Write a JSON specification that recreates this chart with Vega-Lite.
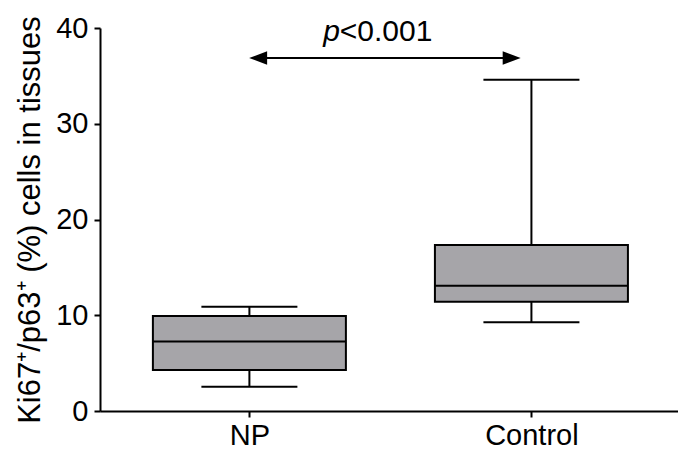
{
  "$schema": "https://vega.github.io/schema/vega-lite/v6.json",
  "width": 578,
  "height": 383,
  "autosize": "none",
  "padding": {"left": 100, "top": 28, "right": 0, "bottom": 40},
  "background": "white",
  "config": {"view": {"stroke": null}, "font": "Liberation Sans"},
  "datasets": {
    "boxes": [
      {"group": "NP", "pos": 1, "min": 2.54, "q1": 4.28, "median": 7.25, "q3": 9.92, "max": 10.89},
      {"group": "Control", "pos": 2, "min": 9.26, "q1": 11.42, "median": 13.09, "q3": 17.34, "max": 34.6}
    ],
    "arrow": [{"x1": 1.03, "x2": 1.93, "y": 36.87}],
    "heads": [{"x": 1.031, "y": 36.87, "dir": "left"}, {"x": 1.930, "y": 36.87, "dir": "right"}],
    "label": [{"x": 1.3206, "y": 39.6, "p": "p", "rest": "<0.001"}]
  },
  "layer": [
    {
      "data": {"name": "boxes"},
      "mark": {"type": "rule", "color": "black", "strokeWidth": 2},
      "encoding": {
        "x": {"field": "pos", "type": "quantitative", "scale": {"domain": [0.488, 2.502], "nice": false, "zero": false},
          "axis": {"values": [1, 2], "labelExpr": "datum.value == 1 ? 'NP' : 'Control'", "title": null, "grid": false,
            "domainColor": "black", "domainWidth": 2, "tickColor": "black", "tickWidth": 2, "tickSize": 6,
            "labelFontSize": 29, "labelColor": "black", "labelPadding": 4, "labelFont": "Liberation Sans"}},
        "y": {"field": "min", "type": "quantitative", "scale": {"domain": [0, 40], "nice": false},
          "axis": {"values": [0, 10, 20, 30, 40], "title": "Ki67⁺/p63⁺  (%)  cells in tissues", "grid": false,
            "domainColor": "black", "domainWidth": 2, "tickColor": "black", "tickWidth": 2, "tickSize": 6,
            "labelFontSize": 29, "labelColor": "black", "labelPadding": 6, "labelFont": "Liberation Sans",
            "titleFontSize": 31, "titleFont": "Liberation Sans", "titleFontWeight": "normal", "titleColor": "black", "titlePadding": 9}},
        "y2": {"field": "max"}
      }
    },
    {
      "data": {"name": "boxes"},
      "mark": {"type": "bar", "width": 193, "fill": "#a6a5a9", "stroke": "black", "strokeWidth": 2},
      "encoding": {
        "x": {"field": "pos", "type": "quantitative", "scale": {"domain": [0.488, 2.502], "nice": false, "zero": false}},
        "y": {"field": "q1", "type": "quantitative", "scale": {"domain": [0, 40], "nice": false}},
        "y2": {"field": "q3"}
      }
    },
    {
      "data": {"name": "boxes"},
      "mark": {"type": "tick", "orient": "horizontal", "size": 193, "thickness": 2, "color": "black", "opacity": 1},
      "encoding": {
        "x": {"field": "pos", "type": "quantitative", "scale": {"domain": [0.488, 2.502], "nice": false, "zero": false}},
        "y": {"field": "median", "type": "quantitative", "scale": {"domain": [0, 40], "nice": false}}
      }
    },
    {
      "data": {"name": "boxes"},
      "mark": {"type": "tick", "orient": "horizontal", "size": 96, "thickness": 2, "color": "black", "opacity": 1},
      "encoding": {
        "x": {"field": "pos", "type": "quantitative", "scale": {"domain": [0.488, 2.502], "nice": false, "zero": false}},
        "y": {"field": "min", "type": "quantitative", "scale": {"domain": [0, 40], "nice": false}}
      }
    },
    {
      "data": {"name": "boxes"},
      "mark": {"type": "tick", "orient": "horizontal", "size": 96, "thickness": 2, "color": "black", "opacity": 1},
      "encoding": {
        "x": {"field": "pos", "type": "quantitative", "scale": {"domain": [0.488, 2.502], "nice": false, "zero": false}},
        "y": {"field": "max", "type": "quantitative", "scale": {"domain": [0, 40], "nice": false}}
      }
    },
    {
      "data": {"name": "arrow"},
      "mark": {"type": "rule", "color": "black", "strokeWidth": 2},
      "encoding": {
        "x": {"field": "x1", "type": "quantitative", "scale": {"domain": [0.488, 2.502], "nice": false, "zero": false}},
        "x2": {"field": "x2"},
        "y": {"field": "y", "type": "quantitative", "scale": {"domain": [0, 40], "nice": false}}
      }
    },
    {
      "data": {"name": "heads"},
      "mark": {"type": "point", "filled": true, "color": "black", "opacity": 1, "size": 324},
      "encoding": {
        "x": {"field": "x", "type": "quantitative", "scale": {"domain": [0.488, 2.502], "nice": false, "zero": false}},
        "y": {"field": "y", "type": "quantitative", "scale": {"domain": [0, 40], "nice": false}},
        "shape": {"field": "dir", "type": "nominal", "legend": null,
          "scale": {"domain": ["left", "right"], "range": ["M -1 0 L 1 -0.75 L 1 0.75 Z", "M 1 0 L -1 -0.75 L -1 0.75 Z"]}}
      }
    },
    {
      "data": {"name": "label"},
      "mark": {"type": "text", "fontSize": 30, "fontStyle": "italic", "align": "right", "baseline": "middle", "color": "black", "font": "Liberation Sans"},
      "encoding": {
        "x": {"field": "x", "type": "quantitative", "scale": {"domain": [0.488, 2.502], "nice": false, "zero": false}},
        "y": {"field": "y", "type": "quantitative", "scale": {"domain": [0, 40], "nice": false}},
        "text": {"field": "p"}
      }
    },
    {
      "data": {"name": "label"},
      "mark": {"type": "text", "fontSize": 30, "align": "left", "baseline": "middle", "color": "black", "font": "Liberation Sans"},
      "encoding": {
        "x": {"field": "x", "type": "quantitative", "scale": {"domain": [0.488, 2.502], "nice": false, "zero": false}},
        "y": {"field": "y", "type": "quantitative", "scale": {"domain": [0, 40], "nice": false}},
        "text": {"field": "rest"}
      }
    }
  ]
}
